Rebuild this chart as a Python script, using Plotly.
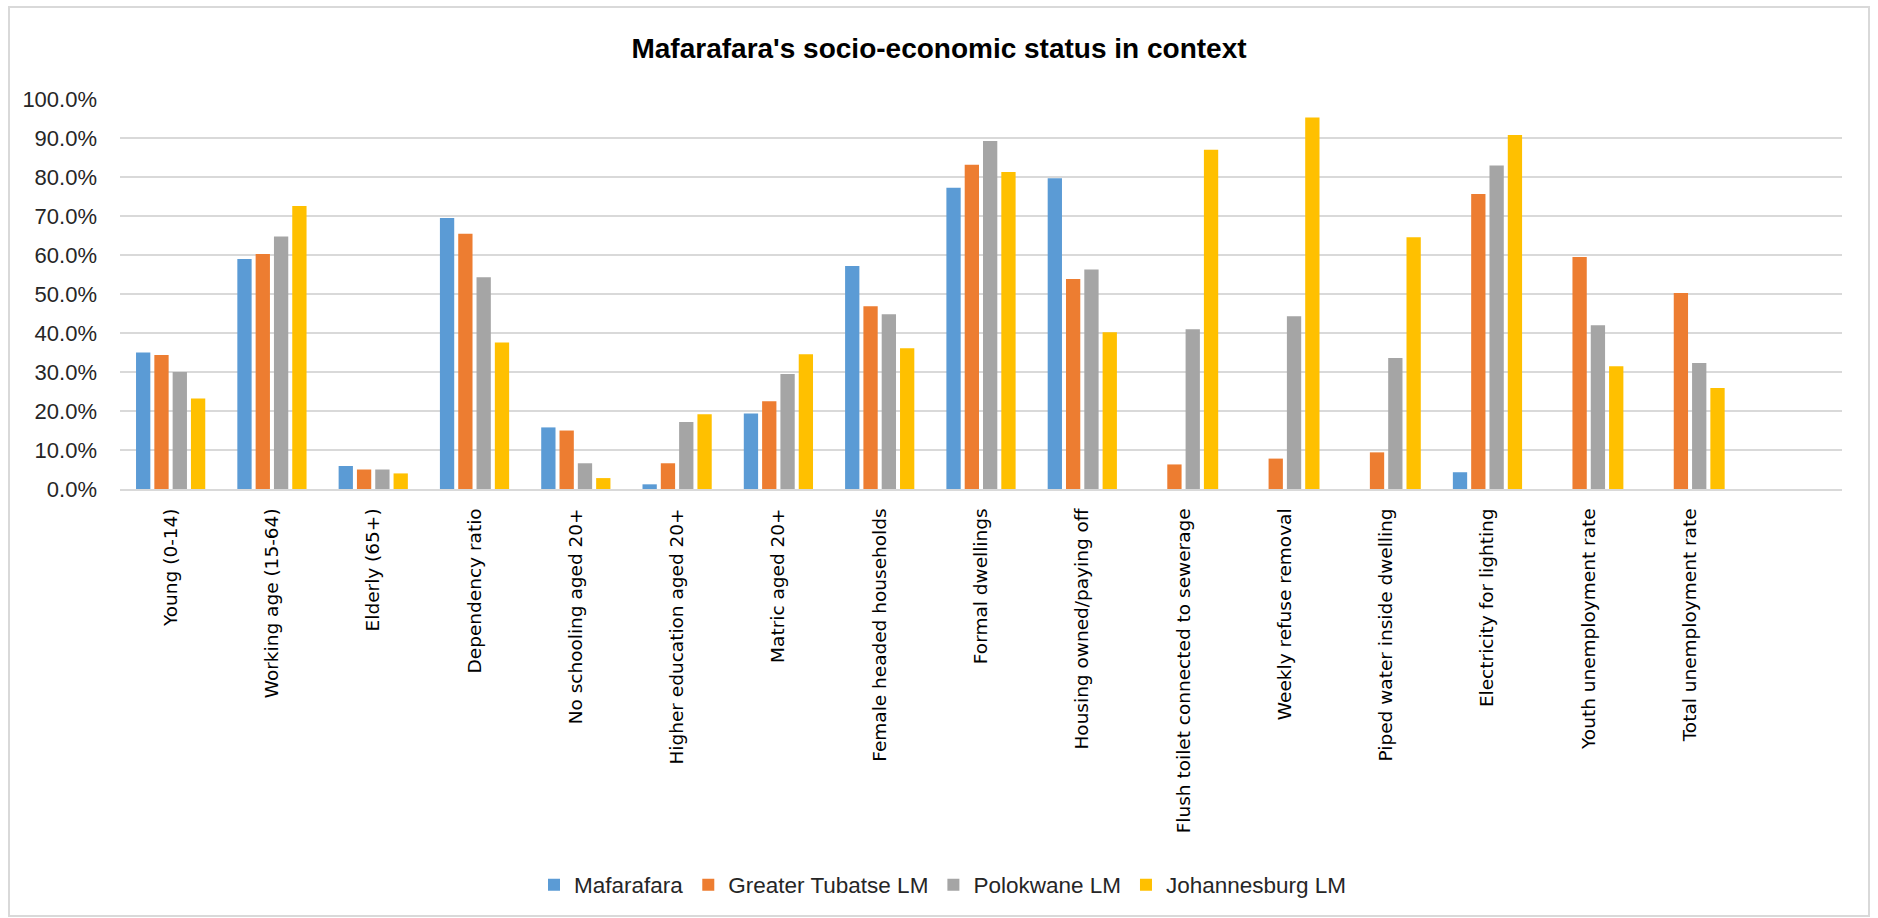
import plotly.graph_objects as go

categories = [
    "Young (0-14)", "Working age (15-64)", "Elderly (65+)", "Dependency ratio",
    "No schooling aged 20+", "Higher education aged 20+", "Matric aged 20+",
    "Female headed households", "Formal dwellings", "Housing owned/paying off",
    "Flush toilet connected to sewerage", "Weekly refuse removal",
    "Piped water inside dwelling", "Electricity for lighting",
    "Youth unemployment rate", "Total unemployment rate",
]

mafarafara = [35.0, 59.0, 5.9, 69.5, 15.8, 1.2, 19.4, 57.2, 77.3, 79.7,
              None, None, None, 4.3, None, None]
greater_tubatse = [34.4, 60.3, 5.0, 65.5, 15.0, 6.6, 22.5, 46.9, 83.2, 53.9,
                   6.3, 7.8, 9.4, 75.7, 59.5, 50.3]
polokwane = [30.0, 64.8, 5.0, 54.3, 6.6, 17.2, 29.5, 44.8, 89.3, 56.3,
             41.0, 44.3, 33.6, 83.0, 42.0, 32.3]
johannesburg = [23.2, 72.6, 4.0, 37.6, 2.8, 19.2, 34.6, 36.1, 81.3, 40.2,
                87.0, 95.3, 64.6, 90.8, 31.5, 25.9]

series = [
    ("Mafarafara", mafarafara, "#5B9BD5"),
    ("Greater Tubatse LM", greater_tubatse, "#ED7D31"),
    ("Polokwane LM", polokwane, "#A5A5A5"),
    ("Johannesburg LM", johannesburg, "#FFC000"),
]

NARROW = "Liberation Sans Narrow, Arial Narrow, Liberation Sans, sans-serif"

fig = go.Figure()
for name, values, color in series:
    fig.add_trace(go.Bar(
        name=name,
        x=categories,
        y=[None if v is None else v / 100 for v in values],
        marker=dict(color=color, line=dict(width=0)),
    ))

# plot-area geometry in pixels, used to place the frame around the whole chart
W, H = 1878, 918
L, R, T, B = 120, 36, 99, 429
pw, ph = W - L - R, H - T - B


def px_x(x):
    return (x - L) / pw


def px_y(y):
    return (H - B - y) / ph


fig.update_layout(
    width=W, height=H,
    margin=dict(l=L, r=R, t=T, b=B, pad=0),
    paper_bgcolor="white",
    plot_bgcolor="white",
    barmode="group",
    bargap=0.277,
    bargroupgap=0.219,
    title=dict(
        text="<b>Mafarafara's socio-economic status in context</b>",
        x=0.5, xref="container", xanchor="center",
        y=1 - 48 / H, yref="container", yanchor="middle",
        font=dict(family=NARROW, size=28, color="#000000"),
    ),
    legend=dict(
        orientation="h",
        x=px_x(943), xanchor="center",
        y=px_y(885), yanchor="middle",
        font=dict(family=NARROW, size=22.5, color="#262626"),
        itemwidth=30,
        traceorder="normal",
    ),
    xaxis=dict(
        type="category",
        range=[-0.5, 16.5],
        tickangle=-90,
        tickfont=dict(family="DejaVu Sans", size=18.5, color="#000000"),
        showgrid=False,
        showline=True, linecolor="#D9D9D9", linewidth=2,
        ticks="",
        ticklabelstandoff=10,
    ),
    yaxis=dict(
        range=[0, 1.0005],
        dtick=0.1,
        tickformat=".1%",
        tickfont=dict(family=NARROW, size=22, color="#262626"),
        showgrid=True, gridcolor="#D9D9D9", gridwidth=2,
        zeroline=False,
        showline=False,
        ticks="",
        ticklabelstandoff=22,
    ),
    shapes=[dict(
        type="rect", xref="paper", yref="paper",
        x0=px_x(9), x1=px_x(1869), y0=px_y(916), y1=px_y(7),
        line=dict(color="#D9D9D9", width=2),
        fillcolor="rgba(0,0,0,0)", layer="below",
    )],
)

fig.write_html("out.html")
